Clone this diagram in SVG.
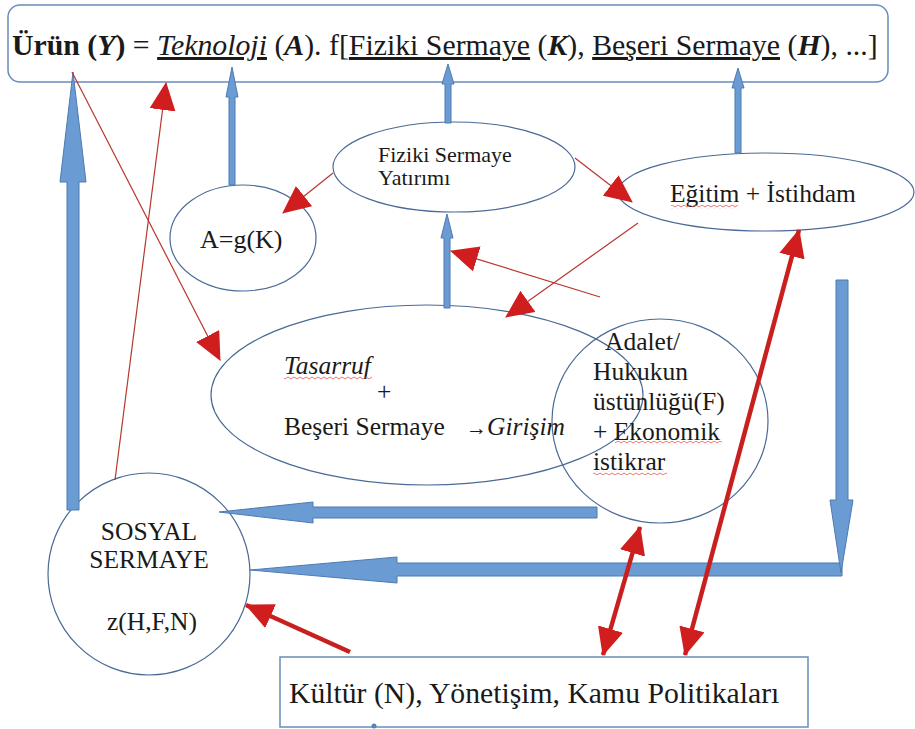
<svg xmlns="http://www.w3.org/2000/svg" width="915" height="729" viewBox="0 0 915 729">
<style>
text{font-family:"Liberation Serif","Times New Roman",serif;fill:#1a1a1a}
.node{fill:none;stroke:#4a6a96;stroke-width:1.2}
.box{fill:#fff;stroke:#6a8cba;stroke-width:1.5}
.blk{fill:#6b9bd3;stroke:#4d7ab3;stroke-width:1}
.thin{stroke:#b8362f;stroke-width:1.2;fill:none}
.thick{stroke:#c81f1f;stroke-width:4.5;fill:none}
.b{font-weight:bold}
.i{font-style:italic}
.bi{font-weight:bold;font-style:italic}
.u{text-decoration:underline}
</style>
<defs>
<marker id="rh" markerUnits="userSpaceOnUse" markerWidth="28" markerHeight="26" viewBox="0 0 28 26" refX="27" refY="13" orient="auto-start-reverse">
<path d="M0,0 L28,13 L0,26 z" fill="#d01e1e"/>
</marker>
<pattern id="wv" patternUnits="userSpaceOnUse" width="6" height="4">
<path d="M0,1 L3,3 L6,1" fill="none" stroke="#e0524f" stroke-width="0.8"/>
</pattern>
</defs>

<g id="node-urun">
<rect class="box" x="8" y="5" width="880" height="77" rx="12" ry="12"/>
<text x="12" y="55" font-size="29.8"><tspan class="b">Ürün (</tspan><tspan class="bi">Y</tspan><tspan class="b">)</tspan> = <tspan class="i u">Teknoloji</tspan> (<tspan class="bi">A</tspan>). f[<tspan class="u">Fiziki Sermaye</tspan> (<tspan class="bi">K</tspan>), <tspan class="u">Beşeri Sermaye</tspan> (<tspan class="bi">H</tspan>), ...]</text>
</g>

<g id="node-fiziki">
<ellipse class="node" cx="454" cy="167" rx="121" ry="45"/>
<text x="378" y="162" font-size="22">Fiziki Sermaye</text>
<text x="378" y="185" font-size="22">Yatırımı</text>
</g>

<g id="node-agk">
<ellipse class="node" cx="243" cy="238" rx="73" ry="53"/>
<text x="200" y="248" font-size="26">A=g(K)</text>
</g>

<g id="node-egitim">
<ellipse class="node" cx="766" cy="192" rx="148" ry="39"/>
<text x="670" y="202" font-size="25.5">Eğitim + İstihdam</text>
<rect x="671" y="205" width="67" height="4" fill="url(#wv)"/>
</g>

<g id="node-tasarruf">
<ellipse class="node" cx="427" cy="395" rx="216" ry="90"/>
<text x="284" y="374" font-size="25.5" class="i">Tasarruf</text>
<rect x="284" y="376" width="88" height="4" fill="url(#wv)"/>
<text x="377" y="400" font-size="25.5">+</text>
<text x="284" y="435" font-size="25.5">Beşeri Sermaye <tspan x="466" font-size="21">→</tspan><tspan x="487" class="i">Girişim</tspan></text>
</g>

<g id="node-adalet">
<ellipse class="node" cx="660" cy="421" rx="108" ry="102"/>
<text font-size="25.5"><tspan x="605" y="350">Adalet/</tspan><tspan x="593" y="380">Hukukun</tspan><tspan x="593" y="410">üstünlüğü(F)</tspan><tspan x="593" y="440">+ Ekonomik</tspan><tspan x="593" y="470">istikrar</tspan></text>
<rect x="615" y="441" width="107" height="4" fill="url(#wv)"/>
<rect x="593" y="471" width="74" height="4" fill="url(#wv)"/>
</g>

<g id="node-sosyal">
<ellipse class="node" cx="149" cy="574" rx="101" ry="101"/>
<text x="149" y="540" font-size="25.5" text-anchor="middle">SOSYAL</text>
<text x="149" y="568" font-size="25.5" text-anchor="middle">SERMAYE</text>
<text x="152" y="630" font-size="25.5" text-anchor="middle">z(H,F,N)</text>
</g>

<g id="node-kultur">
<rect x="280" y="657" width="528" height="70" fill="#fff" stroke="#6a8cba" stroke-width="1.5"/>
<text x="289" y="703" font-size="29.7">Kültür (N), Yönetişim, Kamu Politikaları</text>
<circle cx="374" cy="726" r="2.5" fill="#5a82b8"/>
</g>

<g id="connectors">
<polygon class="blk" points="67,510 79,510 79,182 86,182 73,72 60,182 67,182"/>
<polygon class="blk" points="229,185 235,185 235,97 238,97 232,67 226,97 229,97"/>
<polygon class="blk" points="445,123 451,123 451,84 454,84 448,64 442,84 445,84"/>
<polygon class="blk" points="735,153 741,153 741,88 744,88 738,68 732,88 735,88"/>
<polygon class="blk" points="444,308 450,308 450,238 453,238 447,214 441,238 444,238"/>
<polygon class="blk" points="597,507 597,518 313,518 313,523 219,512 313,502 313,507"/>
<polygon class="blk" points="842,563 842,576 397,576 397,583 250,570 397,557 397,563"/>
<polygon class="blk" points="836,280 848,280 848,500 853,500 841,573 830,500 836,500"/>

<line class="thin" x1="72" y1="72" x2="220" y2="360" marker-end="url(#rh)"/>
<line class="thin" x1="115" y1="480" x2="166" y2="83" marker-end="url(#rh)"/>
<line class="thin" x1="333" y1="173" x2="283" y2="213" marker-end="url(#rh)"/>
<line class="thin" x1="575" y1="158" x2="632" y2="202" marker-end="url(#rh)"/>
<line class="thin" x1="638" y1="223" x2="506" y2="317" marker-end="url(#rh)"/>
<line class="thin" x1="600" y1="297" x2="451" y2="251" marker-end="url(#rh)"/>
<line class="thick" x1="603" y1="655" x2="640" y2="527" marker-start="url(#rh)" marker-end="url(#rh)"/>
<line class="thick" x1="685" y1="655" x2="799" y2="230" marker-start="url(#rh)" marker-end="url(#rh)"/>
<line class="thick" x1="350" y1="652" x2="246" y2="605" marker-end="url(#rh)"/>
</g>
</svg>
